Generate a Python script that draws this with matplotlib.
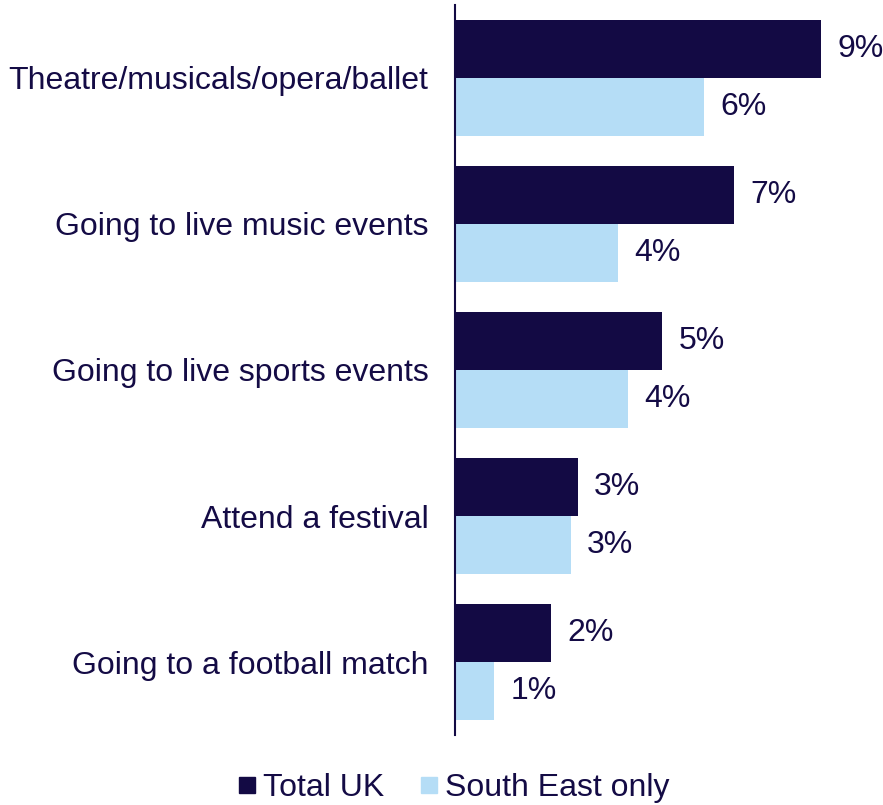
import matplotlib
matplotlib.use("Agg")
import matplotlib.pyplot as plt
from matplotlib.lines import Line2D

plt.rcParams['font.family'] = ['Liberation Sans', 'DejaVu Sans']

categories = [
    "Theatre/musicals/opera/ballet",
    "Going to live music events",
    "Going to live sports events",
    "Attend a festival",
    "Going to a football match",
]
total_uk = [9.0, 6.86, 5.09, 3.02, 2.36]
south_east = [6.12, 4.0, 4.25, 2.85, 0.96]
series_names = ["Total UK", "South East only"]

dark = "#130a44"
light = "#b5ddf6"
text_color = "#140b45"
fs = 23

fig = plt.figure(figsize=(8.83, 8.05), dpi=100)
ax = fig.add_axes([455 / 883, 70 / 805, 425 / 883, 730 / 805])

y = list(range(len(categories)))
h = 0.4
ax.barh([i - h / 2 for i in y], total_uk, height=h, color=dark)
ax.barh([i + h / 2 for i in y], south_east, height=h, color=light)

for i in y:
    ax.text(total_uk[i] + 0.40, i - h / 2, f"{total_uk[i]:.0f}%", va="center",
            ha="left", fontsize=fs, color=text_color)
    ax.text(south_east[i] + 0.40, i + h / 2, f"{south_east[i]:.0f}%", va="center",
            ha="left", fontsize=fs, color=text_color)

ax.set_ylim(len(categories) - 0.5, -0.5)
ax.set_xlim(0, 425 / 40.7)
ax.set_yticks(y)
ax.set_yticklabels(categories, fontsize=fs, color=text_color)
ax.tick_params(axis="y", length=0, pad=19)
ax.set_xticks([])
for side in ["top", "right", "bottom"]:
    ax.spines[side].set_visible(False)
ax.spines["left"].set_color(dark)
ax.spines["left"].set_linewidth(1.5)

handles = [Line2D([], [], marker="s", linestyle="none", markersize=12,
                  markerfacecolor=c, markeredgecolor=c) for c in (dark, light)]
fig.legend(handles, series_names, loc="center", bbox_to_anchor=(451 / 883, 17 / 805),
           ncol=2, frameon=False, fontsize=fs, handletextpad=0.05,
           columnspacing=0.95, labelcolor=text_color, handlelength=0.9)

fig.savefig("out.png", dpi=100)
